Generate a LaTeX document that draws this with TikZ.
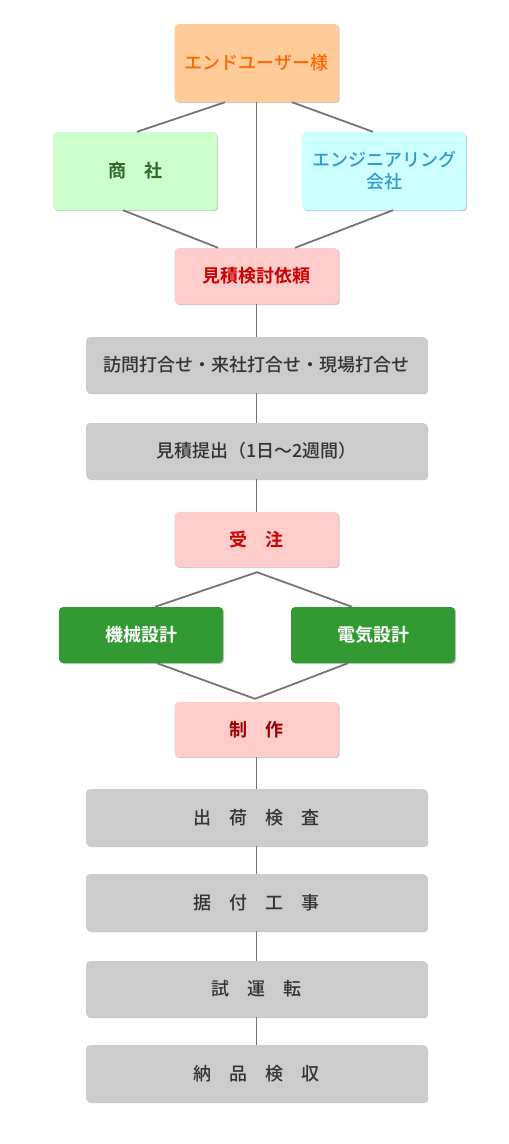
\documentclass[tikz,border=0pt]{standalone}
\usepackage{fontspec}
\setmainfont{Noto Sans CJK JP}[UprightFont=* Medium, BoldFont=* Bold]
\usepackage{xcolor}
\usetikzlibrary{calc,shadows}

\definecolor{userfill}{HTML}{FFCC99}
\definecolor{usertext}{HTML}{FF6600}
\definecolor{tradefill}{HTML}{CCFFCC}
\definecolor{tradetext}{HTML}{336633}
\definecolor{engfill}{HTML}{CCFFFF}
\definecolor{engtext}{HTML}{3399CC}
\definecolor{redfill}{HTML}{FFCCCC}
\definecolor{redtext}{HTML}{CC0000}
\definecolor{darkredtext}{HTML}{990000}
\definecolor{greenfill}{HTML}{339933}
\definecolor{grayfill}{HTML}{CCCCCC}
\definecolor{graytext}{HTML}{333333}
\definecolor{linegray}{HTML}{757575}

\begin{document}
\begin{tikzpicture}[x=1pt, y=-1pt,
		box/.style={rounded corners=4pt, inner sep=0pt, minimum width=164pt, minimum height=56pt,
			font=\fontsize{18}{22}\selectfont, align=center,
			drop shadow={shadow xshift=1.2pt, shadow yshift=-1.2pt, opacity=0.35, fill=black!60}},
		widebox/.style={box, fill=grayfill, text=graytext, minimum width=341pt},
		redbox/.style={box, fill=redfill, text=redtext, font=\fontsize{18}{22}\selectfont\bfseries},
		greenbox/.style={box, fill=greenfill, text=white, font=\fontsize{18}{22}\selectfont\bfseries},
		link/.style={draw=linegray, line width=1.8pt}]
			\useasboundingbox (0,0) rectangle (509,1144);
			
			% Clients
			\node[box, fill=userfill, text=usertext, minimum height=78pt] (user) at (256.5,63) {エンドユーザー様};
			\node[box, fill=tradefill, text=tradetext, minimum height=78pt, font=\fontsize{18}{22}\selectfont\bfseries] (trade) at (135,171) {商　社};
			\node[box, fill=engfill, text=engtext, minimum height=78pt] (eng) at (384,171) {エンジニアリング\\会社};
			
			% Flow up to the order
			\node[redbox] (request) at (256.5,276) {見積検討依頼};
			\node[widebox] (meeting) at (256.5,365) {訪問打合せ・来社打合せ・現場打合せ};
			\node[widebox] (quote) at (256.5,451) {見積提出（1日〜2週間）};
			\node[redbox, minimum height=55pt] (order) at (256.5,539.5) {受　注};
			
			% Design
			\node[greenbox] (mech) at (141,635) {機械設計};
			\node[greenbox] (elec) at (373,635) {電気設計};
			
			% Production and delivery
			\node[redbox, minimum height=55pt, text=darkredtext] (make) at (256.5,729.5) {制　作};
			\node[widebox, minimum height=57pt] (ship) at (256.5,817.5) {出　荷　検　査};
			\node[widebox, minimum height=57pt] (install) at (256.5,902.5) {据　付　工　事};
			\node[widebox, minimum height=56pt] (trial) at (256.5,989) {試　運　転};
			\node[widebox, minimum height=57pt] (accept) at (256.5,1073.5) {納　品　検　収};
			
			% Connectors
			\coordinate (split) at ($(order.south)+(0.5,5)$);
			\coordinate (merge) at ($(make.north)+(-1.5,-3)$);
			\draw[link] ($(user.south)+(-31.5,0)$) -- ($(trade.north)+(2,0)$);
			\draw[link] ($(user.south)+(35.5,0)$) -- ($(eng.north)+(-11,0)$);
			\draw[link] (user.south) -- (request.north);
			\draw[link] ($(trade.south)+(-12,0)$) -- ($(request.north)+(-38.5,0)$);
			\draw[link] ($(eng.south)+(9,0)$) -- ($(request.north)+(38.5,0)$);
			\draw[link] (request.south) -- (meeting.north);
			\draw[link] (meeting.south) -- (quote.north);
			\draw[link] (quote.south) -- (order.north);
			\draw[link] ($(mech.north)+(14,0)$) -- (split) -- ($(elec.north)+(-21,0)$);
			\draw[link] ($(mech.south)+(16,0)$) -- (merge) -- ($(elec.south)+(-25,0)$);
			\draw[link] (make.south) -- (ship.north);
			\draw[link] (ship.south) -- (install.north);
			\draw[link] (install.south) -- (trial.north);
			\draw[link] (trial.south) -- (accept.north);
		\end{tikzpicture}
\end{document}
